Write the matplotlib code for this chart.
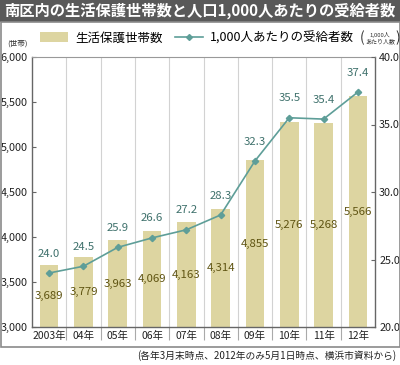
import matplotlib
matplotlib.use("Agg")
import matplotlib.pyplot as plt
from matplotlib.patches import Rectangle
from matplotlib.lines import Line2D
from matplotlib.patches import Patch

plt.rcParams['font.family'] = ['Noto Sans CJK JP', 'DejaVu Sans']

years = ['2003年', '04年', '05年', '06年', '07年', '08年', '09年', '10年', '11年', '12年']
households = [3689, 3779, 3963, 4069, 4163, 4314, 4855, 5276, 5268, 5566]
per_1000 = [24.0, 24.5, 25.9, 26.6, 27.2, 28.3, 32.3, 35.5, 35.4, 37.4]
left_ticks = [3000, 3500, 4000, 4500, 5000, 5500, 6000]
right_ticks = [20.0, 25.0, 30.0, 35.0, 40.0]

bar_color = '#ddd5a1'
line_color = '#5e9e98'
line_text = '#3f716c'
bar_text = '#5f5412'
axis_gray = '#666666'

fig = plt.figure(figsize=(4.0, 3.65), dpi=100)
W, H = 400, 365

# title bar and frame
fig.patches.append(Rectangle((0, 1 - 22 / H), 1, 22 / H, transform=fig.transFigure,
                             facecolor='#595959', edgecolor='none'))
fig.patches.append(Rectangle((0.5 / W, 1 - 347 / H), 399 / W, (347 - 22) / H,
                             transform=fig.transFigure, facecolor='none',
                             edgecolor='#8a8a8a', linewidth=1.2))
fig.text(0.5, 1 - 11 / H, '南区内の生活保護世帯数と人口1,000人あたりの受給者数',
         color='white', fontsize=11, fontweight='bold', ha='center', va='center')

ax = fig.add_axes([32 / W, 1 - 327 / H, (375 - 32) / W, (327 - 57) / H])
x = list(range(len(years)))
ax.bar(x, households, width=0.54, color=bar_color, zorder=2)
ax.set_xlim(-0.5, len(years) - 0.5)
ax.set_ylim(3000, 6000)
ax.set_yticks(left_ticks)
ax.set_yticklabels([f'{v:,}' for v in left_ticks])
ax.set_xticks(x)
ax.set_xticklabels(years)
ax.set_xticks([i + 0.5 for i in range(len(years) - 1)], minor=True)
ax.tick_params(axis='x', which='major', length=0, labelsize=7.5, pad=3, colors='#222222')
ax.tick_params(axis='x', which='minor', length=9, width=0.8, color='#aaaaaa', direction='out')
ax.tick_params(axis='y', direction='in', length=3, width=0.8, color=axis_gray,
               labelsize=7.8, pad=3, labelcolor='#222222')
ax.grid(axis='x', which='minor', color='#d2d2d2', linewidth=0.8)
ax.set_axisbelow(True)
for s in ['left', 'bottom', 'right']:
    ax.spines[s].set_color(axis_gray)
    ax.spines[s].set_linewidth(1.0)
ax.spines['top'].set_color('#999999')
ax.spines['top'].set_linewidth(0.8)

for i, v in enumerate(households):
    ax.text(i, (3000 + v) / 2, f'{v:,}', ha='center', va='center',
            fontsize=8.2, color=bar_text, zorder=3)

ax2 = ax.twinx()
ax2.plot(x, per_1000, color=line_color, linewidth=1.2, marker='D', markersize=3.2,
         markerfacecolor=line_color, markeredgecolor=line_color, zorder=4)
ax2.set_ylim(20, 40)
ax2.set_yticks(right_ticks)
ax2.set_yticklabels([f'{v:.1f}' for v in right_ticks])
ax2.tick_params(axis='y', direction='in', length=3, width=0.8, color=axis_gray,
                labelsize=7.8, pad=3, labelcolor='#222222')
for s in ax2.spines.values():
    s.set_visible(False)
for i, v in enumerate(per_1000):
    ax2.annotate(f'{v:.1f}', (i, v), xytext=(0, 14), textcoords='offset points',
                 ha='center', va='center', fontsize=8.2, color=line_text)

# legend
handles = [Patch(facecolor=bar_color, edgecolor='none'),
           Line2D([0], [0], color=line_color, linewidth=1.2, marker='D', markersize=3)]
fig.legend(handles, ['生活保護世帯数', '1,000人あたりの受給者数'],
           loc='center', bbox_to_anchor=(197 / W, 1 - 38 / H), ncol=2, frameon=False,
           fontsize=9, handlelength=2.2, handleheight=0.8, columnspacing=1.0,
           handletextpad=0.6)

fig.text(17 / W, 1 - 44 / H, '(世帯)', fontsize=5.5, ha='center', va='center', color='#333333')
fig.text(380 / W, 1 - 38 / H, '1,000人\nあたり人数', fontsize=4.3, ha='center', va='center',
         color='#333333', linespacing=1.1)
fig.text(362 / W, 1 - 38 / H, '(', fontsize=10, ha='center', va='center', color='#333333')
fig.text(398 / W, 1 - 38 / H, ')', fontsize=10, ha='center', va='center', color='#333333')

fig.text(396 / W, 1 - 356 / H, '(各年3月末時点、2012年のみ5月1日時点、横浜市資料から)',
         fontsize=7, ha='right', va='center', color='#222222')

fig.savefig('out.png', dpi=100)
